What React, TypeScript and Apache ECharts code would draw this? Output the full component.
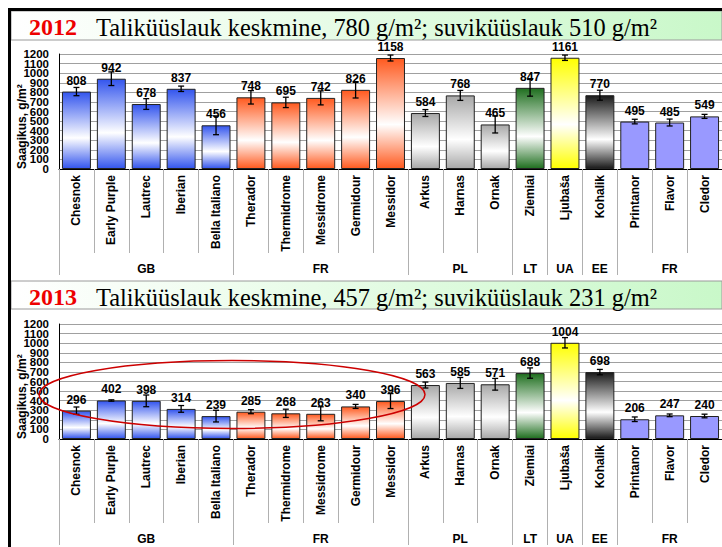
import React, { useEffect, useRef } from 'react';
import * as echarts from 'echarts';

// ---------- data ----------
const categories = [
  'Chesnok', 'Early Purple', 'Lautrec', 'Iberian', 'Bella Italiano',
  'Therador', 'Thermidrome', 'Messidrome', 'Germidour', 'Messidor',
  'Arkus', 'Harnas', 'Ornak', 'Ziemiai', 'Ljubaša', 'Kohalik',
  'Printanor', 'Flavor', 'Cledor',
];
const groupNames = ['GB', 'FR', 'PL', 'LT', 'UA', 'EE', 'FR'];
const groupSizes = [5, 5, 3, 1, 1, 1, 3];

const yield2012 = [808, 942, 678, 837, 456, 748, 695, 742, 826, 1158, 584, 768, 465, 847, 1161, 770, 495, 485, 549];
const error2012 = [43, 71, 56, 28, 98, 70, 54, 73, 85, 31, 36, 52, 89, 87, 28, 52, 24, 36, 21];
const yield2013 = [296, 402, 398, 314, 239, 285, 268, 263, 340, 396, 563, 585, 571, 688, 1004, 698, 206, 247, 240];
const error2013 = [38, 7, 61, 35, 61, 21, 43, 73, 21, 78, 31, 57, 61, 54, 54, 28, 24, 14, 19];

const yMin = 0;
const yMax = 1200;
const yStep = 100;

const titleYears = ['2012', '2013'];
const titleTexts = [
  'Taliküüslauk keskmine, 780 g/m²; suviküüslauk 510 g/m²',
  'Taliküüslauk keskmine, 457 g/m²; suviküüslauk 231 g/m²',
];
const yAxisTitle = 'Saagikus, g/m²';

// ---------- styles ----------
const groupColors = ['#3355ee', '#ff5a1f', '#a8a8a8', '#1f6f1f', '#ffff00', '#1a1a1a', '#9999ff'];
const groupGradient = [true, true, true, true, true, true, false];

const SANS = '"Liberation Sans", Arial, Helvetica, sans-serif';
const SERIF = '"Liberation Serif", "Times New Roman", serif';

const panels = [
  { gridTop: 54, gridHeight: 115, bandTop: 11, bandBottom: 40, titleY: 27 },
  { gridTop: 324, gridHeight: 115, bandTop: 281, bandBottom: 309, titleY: 297 },
];
const GRID_LEFT = 59;
const GRID_WIDTH = 663;

// derived helpers
const catGroup: number[] = [];
const boundaries = new Set<number>();
const groupLabelAt: string[] = categories.map(() => '');
{
  let start = 0;
  groupSizes.forEach((size, g) => {
    boundaries.add(start);
    for (let k = 0; k < size; k++) catGroup.push(g);
    groupLabelAt[start + Math.floor(size / 2)] = groupNames[g];
    start += size;
  });
  boundaries.add(start);
}

function barColor(i: number) {
  const g = catGroup[i];
  const c = groupColors[g];
  if (!groupGradient[g]) return c;
  return new echarts.graphic.LinearGradient(0, 0, 0, 1, [
    { offset: 0, color: c },
    { offset: 0.6, color: '#ffffff' },
    { offset: 1, color: c },
  ]);
}

function catAxis(gridIndex: number) {
  return {
    type: 'category',
    gridIndex,
    position: 'bottom',
    data: categories,
    boundaryGap: true,
    axisLine: { show: true, onZero: false, lineStyle: { color: '#000', width: 1 } },
    axisTick: { show: true, length: 84, interval: 0, lineStyle: { color: '#b0b0b0' } },
    axisLabel: {
      interval: 0,
      rotate: 90,
      margin: 6,
      fontSize: 12,
      fontWeight: 'bold',
      color: '#000',
      fontFamily: SANS,
    },
    splitLine: { show: false },
  };
}

function groupAxis(gridIndex: number) {
  return {
    type: 'category',
    gridIndex,
    position: 'bottom',
    data: categories,
    boundaryGap: true,
    axisLine: { show: false, onZero: false },
    axisTick: {
      show: true,
      length: 106,
      interval: (i: number) => boundaries.has(i),
      lineStyle: { color: '#b0b0b0' },
    },
    axisLabel: {
      interval: 0,
      margin: 94,
      fontSize: 12,
      fontWeight: 'bold',
      color: '#000',
      fontFamily: SANS,
      formatter: (_v: string, i: number) => groupLabelAt[i],
    },
    splitLine: { show: false },
  };
}

// parity 0: main axis (line, grid lines, even hundreds); parity 1: odd hundreds only.
// Two axes keep the tightly packed labels from being auto-hidden.
function valAxis(gridIndex: number, parity: number) {
  return {
    type: 'value',
    gridIndex,
    position: 'left',
    offset: 0,
    min: yMin,
    max: yMax,
    interval: yStep,
    axisLine: { show: parity === 0, onZero: false, lineStyle: { color: '#000', width: 1 } },
    axisTick: { show: false },
    axisLabel: {
      margin: 10,
      fontSize: 11.5,
      fontWeight: 'bold',
      color: '#000',
      fontFamily: SANS,
      showMinLabel: true,
      showMaxLabel: true,
      hideOverlap: false,
      formatter: (v: number) => (Math.round(v / yStep) % 2 === parity ? String(v) : ''),
    },
    splitLine: { show: parity === 0, lineStyle: { color: '#a0a0a0', width: 1 } },
  };
}

function barSeries(values: number[], xAxisIndex: number, yAxisIndex: number) {
  return {
    type: 'bar',
    xAxisIndex,
    yAxisIndex,
    data: values,
    barCategoryGap: '17%',
    itemStyle: {
      color: (p: any) => barColor(p.dataIndex),
      borderColor: '#222',
      borderWidth: 1,
    },
    label: {
      show: true,
      position: 'top',
      distance: 5,
      fontSize: 12,
      fontWeight: 'bold',
      color: '#000',
      fontFamily: SANS,
    },
    z: 2,
  };
}

function errorSeries(values: number[], errors: number[], xAxisIndex: number, yAxisIndex: number) {
  return {
    type: 'custom',
    xAxisIndex,
    yAxisIndex,
    data: values.map((v, i) => [i, v, errors[i]]),
    encode: { x: 0, y: 1 },
    z: 5,
    renderItem: (_params: any, api: any) => {
      const i = api.value(0);
      const v = api.value(1);
      const e = api.value(2);
      const top = api.coord([i, v + e]);
      const bot = api.coord([i, v - e]);
      const hw = 3;
      const st = { stroke: '#000', lineWidth: 1.3 };
      return {
        type: 'group',
        children: [
          { type: 'line', shape: { x1: top[0], y1: top[1], x2: bot[0], y2: bot[1] }, style: st },
          { type: 'line', shape: { x1: top[0] - hw, y1: top[1], x2: top[0] + hw, y2: top[1] }, style: st },
          { type: 'line', shape: { x1: bot[0] - hw, y1: bot[1], x2: bot[0] + hw, y2: bot[1] }, style: st },
        ],
      };
    },
  };
}

function buildGraphics() {
  const els: any[] = [];
  panels.forEach((p, k) => {
    els.push({
      type: 'rect',
      shape: { x: 11, y: p.bandTop, width: 711, height: p.bandBottom - p.bandTop },
      style: {
        fill: new echarts.graphic.LinearGradient(0, 0, 1, 0, [
          { offset: 0, color: '#ffffff' },
          { offset: 1, color: '#c9f8c9' },
        ]),
        stroke: '#9a9a9a',
        lineWidth: 1,
      },
      z: 0,
    });
    els.push({
      type: 'text',
      x: 29,
      y: p.titleY,
      style: {
        text: titleYears[k],
        fill: '#ee0000',
        fontFamily: SERIF,
        fontSize: 24,
        fontWeight: 'bold',
        align: 'left',
        verticalAlign: 'middle',
      },
      z: 10,
    });
    els.push({
      type: 'text',
      x: 96,
      y: p.titleY,
      style: {
        text: titleTexts[k],
        fill: '#000',
        fontFamily: SERIF,
        fontSize: 24.4,
        align: 'left',
        verticalAlign: 'middle',
      },
      z: 10,
    });
    els.push({
      type: 'text',
      x: 22,
      y: p.gridTop + p.gridHeight,
      rotation: Math.PI / 2,
      style: {
        text: yAxisTitle,
        fill: '#000',
        fontFamily: SANS,
        fontSize: 12,
        fontWeight: 'bold',
        align: 'left',
        verticalAlign: 'middle',
      },
      z: 10,
    });
  });
  // black frame
  els.push({ type: 'rect', shape: { x: 8, y: 8, width: 714, height: 3 }, style: { fill: '#000' }, z: 20 });
  els.push({ type: 'rect', shape: { x: 8, y: 8, width: 3, height: 539 }, style: { fill: '#000' }, z: 20 });
  // red ellipse highlight on 2013 panel
  els.push({
    type: 'ellipse',
    shape: { cx: 232, cy: 394.5, rx: 193, ry: 34 },
    style: { fill: 'none', stroke: '#cc0000', lineWidth: 1.5 },
    z: 30,
  });
  return els;
}

export default function App() {
  const ref = useRef<HTMLDivElement>(null);
  useEffect(() => {
    if (!ref.current) return;
    const chart = echarts.init(ref.current, undefined, { renderer: 'svg' });
    chart.setOption({
      animation: false,
      backgroundColor: '#ffffff',
      textStyle: { fontFamily: SANS },
      grid: panels.map((p) => ({
        left: GRID_LEFT,
        top: p.gridTop,
        width: GRID_WIDTH,
        height: p.gridHeight,
        containLabel: false,
      })),
      xAxis: [catAxis(0), groupAxis(0), catAxis(1), groupAxis(1)],
      yAxis: [valAxis(0, 0), valAxis(0, 1), valAxis(1, 0), valAxis(1, 1)],
      series: [
        barSeries(yield2012, 0, 0),
        errorSeries(yield2012, error2012, 0, 0),
        barSeries(yield2013, 2, 2),
        errorSeries(yield2013, error2013, 2, 2),
      ],
      graphic: buildGraphics(),
    });
    return () => chart.dispose();
  }, []);
  return (
    <div
      ref={ref}
      style={{ position: 'absolute', left: 0, top: 0, width: 722, height: 547 }}
    />
  );
}
